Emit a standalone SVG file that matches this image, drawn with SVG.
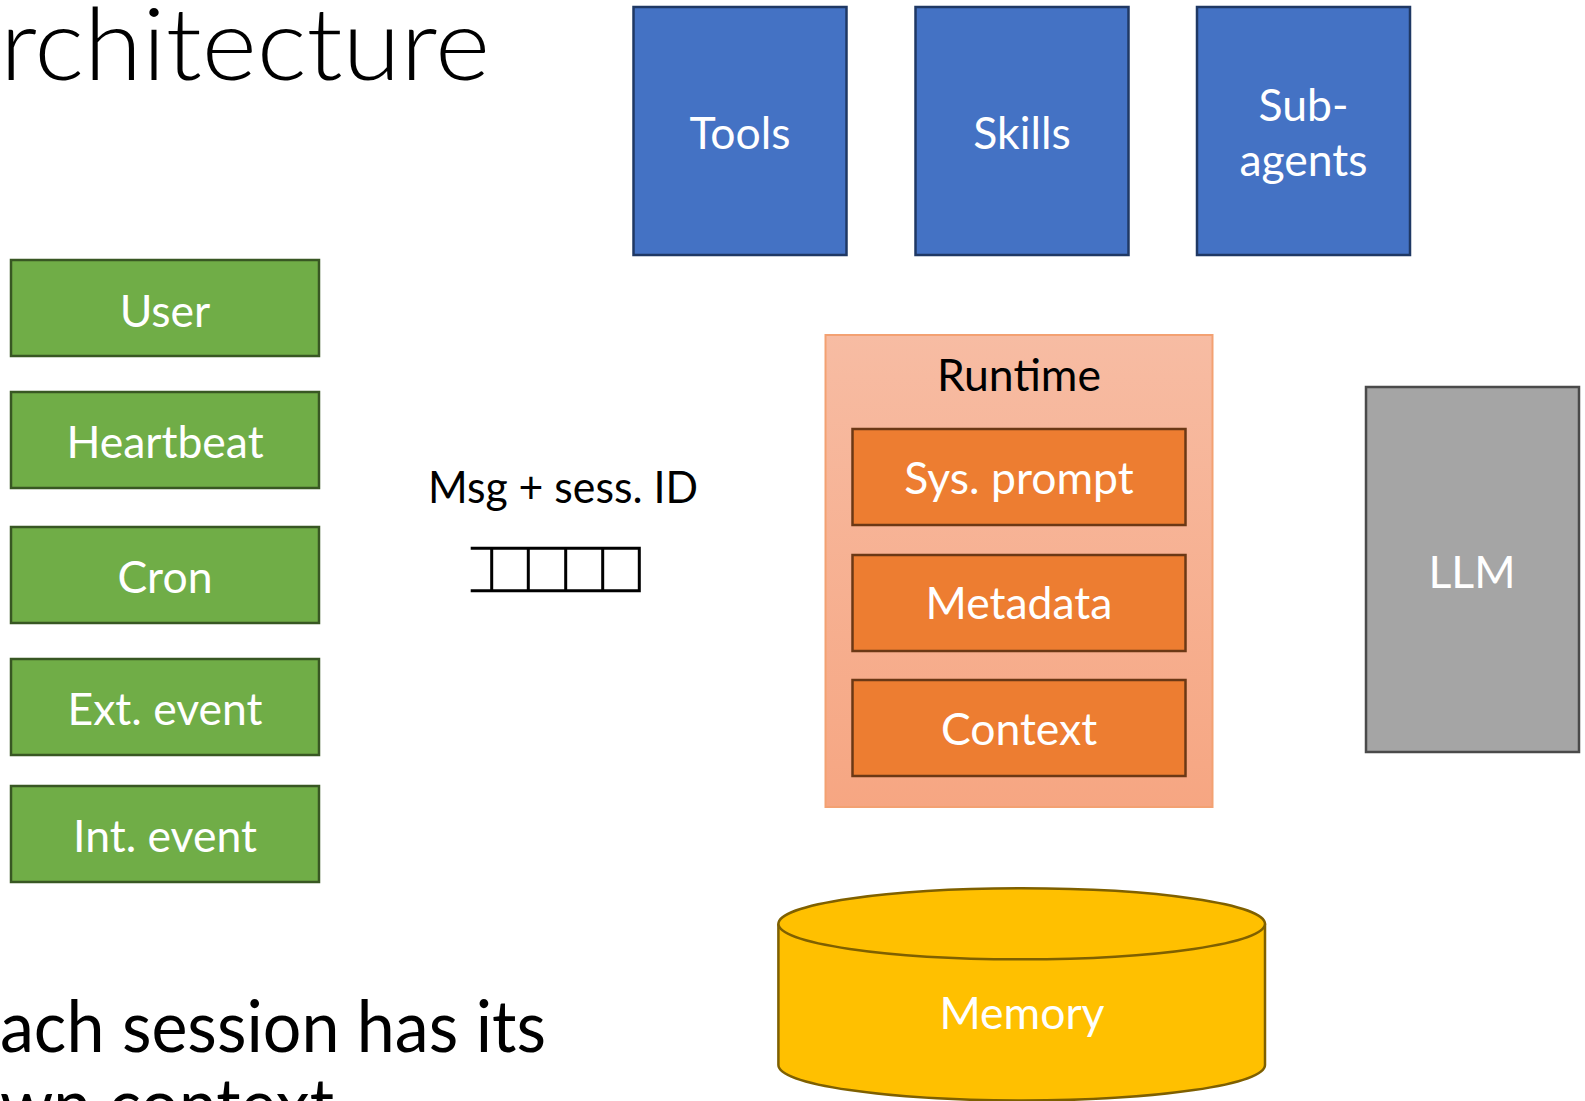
<svg xmlns="http://www.w3.org/2000/svg" width="1585" height="1101" viewBox="0 0 1585 1101">
<defs>
<linearGradient id="rtGrad" x1="0" y1="0" x2="0" y2="1">
<stop offset="0" stop-color="#F7BCA3"/>
<stop offset="1" stop-color="#F6A682"/>
</linearGradient>
</defs>
<style>
text{font-family:Lato,"Open Sans","Liberation Sans",sans-serif;}
.lbl{fill:#FFFFFF;font-size:44.5px;text-anchor:middle;}
.blk{fill:#000000;font-size:44.5px;text-anchor:middle;}
.green{fill:#70AD47;stroke:#385723;stroke-width:2.5;}
.blue{fill:#4472C4;stroke:#1F3864;stroke-width:2.5;}
.orange{fill:#ED7D31;stroke:#6B3815;stroke-width:2.5;}
.big{fill:#000000;font-size:72px;}
</style>
<rect width="1585" height="1101" fill="#FFFFFF"/>

<text x="0" y="80" class="big" style="font-size:100px;font-weight:300" textLength="490" lengthAdjust="spacingAndGlyphs">rchitecture</text>
<text x="0" y="1052" class="big" textLength="546" lengthAdjust="spacingAndGlyphs">ach session has its</text>
<text x="0" y="1130" class="big" textLength="334" lengthAdjust="spacingAndGlyphs">wn context</text>

<g id="tools"><rect class="blue" x="633.5" y="7" width="213" height="248"/><text class="lbl" x="740" y="149">Tools</text></g>
<g id="skills"><rect class="blue" x="915.5" y="7" width="213" height="248"/><text class="lbl" x="1022" y="149">Skills</text></g>
<g id="subagents"><rect class="blue" x="1197" y="7" width="213" height="248"/><text class="lbl" x="1303.5" y="121">Sub-</text><text class="lbl" x="1303.5" y="176">agents</text></g>

<g id="user"><rect class="green" x="11" y="260" width="308" height="96"/><text class="lbl" x="165" y="326.5">User</text></g>
<g id="heartbeat"><rect class="green" x="11" y="392" width="308" height="96"/><text class="lbl" x="165" y="458">Heartbeat</text></g>
<g id="cron"><rect class="green" x="11" y="527" width="308" height="96"/><text class="lbl" x="165" y="592.5">Cron</text></g>
<g id="ext-event"><rect class="green" x="11" y="659" width="308" height="96"/><text class="lbl" x="165" y="724.5">Ext. event</text></g>
<g id="int-event"><rect class="green" x="11" y="786" width="308" height="96"/><text class="lbl" x="165" y="851.5">Int. event</text></g>

<g id="queue">
<text class="blk" x="563" y="503" textLength="270" lengthAdjust="spacingAndGlyphs">Msg + sess. ID</text>
<path d="M470.7 548.3 H639.3 V590.7 H470.7 M491.7 548.3 V590.7 M528.3 548.3 V590.7 M565.7 548.3 V590.7 M602.7 548.3 V590.7" fill="none" stroke="#000" stroke-width="3"/>
</g>

<g id="runtime">
<rect x="825.5" y="335" width="387" height="472" fill="url(#rtGrad)" stroke="#F3A172" stroke-width="2"/>
<text class="blk" x="1019" y="391">Runtime</text>
</g>
<g id="sys-prompt"><rect class="orange" x="852.5" y="429" width="333" height="96"/><text class="lbl" x="1019" y="494">Sys. prompt</text></g>
<g id="metadata"><rect class="orange" x="852.5" y="555" width="333" height="96"/><text class="lbl" x="1019" y="619">Metadata</text></g>
<g id="context"><rect class="orange" x="852.5" y="680" width="333" height="96"/><text class="lbl" x="1019" y="745">Context</text></g>

<g id="llm"><rect x="1366" y="387" width="213" height="365" fill="#A5A5A5" stroke="#4A4A4A" stroke-width="2.5"/><text class="lbl" x="1472" y="588">LLM</text></g>

<g id="memory">
<path d="M778.4 923.8 V1065 A243.3 35.5 0 0 0 1265 1065 V923.8" fill="#FFC000" stroke="#7F6000" stroke-width="2.5"/>
<ellipse cx="1021.7" cy="923.8" rx="243.3" ry="35.5" fill="#FFC000" stroke="#7F6000" stroke-width="2.5"/>
<text class="lbl" x="1022" y="1029">Memory</text>
</g>

<g id="connectors"></g>
</svg>
